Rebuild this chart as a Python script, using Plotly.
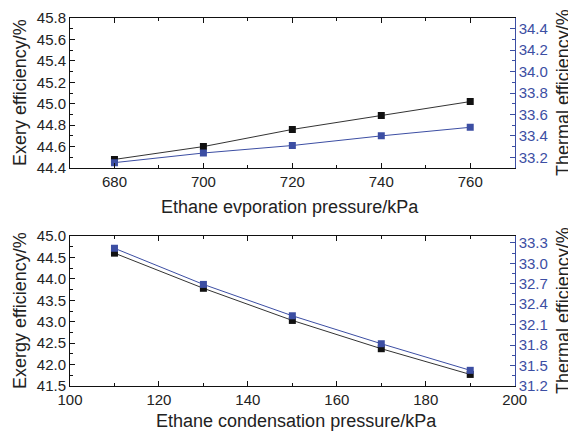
import plotly.graph_objects as go

# Top panel: ethane evaporation pressure
evap_pressure = [680, 700, 720, 740, 760]
evap_exergy = [44.48, 44.60, 44.76, 44.89, 45.02]
evap_thermal = [33.15, 33.24, 33.31, 33.40, 33.48]

# Bottom panel: ethane condensation pressure
cond_pressure = [110, 130, 150, 170, 190]
cond_exergy = [44.60, 43.78, 43.03, 42.37, 41.77]
cond_thermal = [33.22, 32.69, 32.23, 31.82, 31.43]

BLACK = "#111111"
BLUE = "#3c4ea3"
FONT = "Liberation Sans, Arial, sans-serif"

fig = go.Figure()
fig.add_trace(go.Scatter(x=evap_pressure, y=evap_exergy, mode="lines+markers",
                         line=dict(color="#333333", width=1),
                         marker=dict(symbol="square", size=7, color=BLACK),
                         xaxis="x", yaxis="y"))
fig.add_trace(go.Scatter(x=evap_pressure, y=evap_thermal, mode="lines+markers",
                         line=dict(color=BLUE, width=1),
                         marker=dict(symbol="square", size=7, color=BLUE),
                         xaxis="x", yaxis="y2"))
fig.add_trace(go.Scatter(x=cond_pressure, y=cond_exergy, mode="lines+markers",
                         line=dict(color="#333333", width=1),
                         marker=dict(symbol="square", size=7, color=BLACK),
                         xaxis="x2", yaxis="y3"))
fig.add_trace(go.Scatter(x=cond_pressure, y=cond_thermal, mode="lines+markers",
                         line=dict(color=BLUE, width=1),
                         marker=dict(symbol="square", size=7, color=BLUE),
                         xaxis="x2", yaxis="y4"))

# page body adds an 8px offset, so the figure is 8px smaller and shifted
OFF = 8
W, H = 576 - OFF, 434 - OFF
xd = [(70 - OFF) / W, (514.7 - OFF) / W]
top_d = [1 - (168 - OFF) / H, 1 - (18 - OFF) / H]
bot_d = [1 - (386 - OFF) / H, 1 - (236 - OFF) / H]

tickfont = dict(family=FONT, size=15, color="#222222")
titlefont = dict(family=FONT, size=18, color="#222222")
btickfont = dict(family=FONT, size=15, color=BLUE)


def xax(rng, dtick, anchor):
    return dict(domain=xd, range=rng, dtick=dtick, tick0=0, anchor=anchor,
                automargin=False,
                showline=True, linecolor="#111111", linewidth=1, mirror="ticks",
                ticks="inside", ticklen=5, tickcolor="#111111",
                minor=dict(ticks="inside", ticklen=3, dtick=dtick / 2, tickcolor="#111111"),
                showgrid=False, zeroline=False, tickfont=tickfont)


def yax_left(rng, dtick, anchor, domain):
    return dict(domain=domain, range=rng, dtick=dtick, tick0=0, anchor=anchor,
                automargin=False, tickformat=".1f",
                showline=True, linecolor="#111111", linewidth=1,
                ticks="inside", ticklen=5, tickcolor="#111111",
                minor=dict(ticks="inside", ticklen=3, dtick=dtick / 2, tickcolor="#111111"),
                showgrid=False, zeroline=False, tickfont=tickfont)


def yax_right(rng, dtick, anchor, overlay):
    return dict(range=rng, dtick=dtick, tick0=0, anchor=anchor, overlaying=overlay,
                automargin=False, tickformat=".1f",
                side="right", showline=True, linecolor=BLUE, linewidth=1,
                ticks="inside", ticklen=5, tickcolor=BLUE,
                minor=dict(ticks="inside", ticklen=3, dtick=dtick / 2, tickcolor=BLUE),
                showgrid=False, zeroline=False, tickfont=btickfont)


fig.update_layout(
    width=W, height=H,
    margin=dict(l=0, r=0, t=0, b=0),
    paper_bgcolor="white", plot_bgcolor="white",
    showlegend=False,
    font=dict(family=FONT),
    xaxis=xax([670, 770], 20, "y"),
    yaxis=yax_left([44.4, 45.8], 0.2, "x", top_d),
    yaxis2=yax_right([33.1, 34.5], 0.2, "x", "y"),
    xaxis2=xax([100, 200], 20, "y3"),
    yaxis3=yax_left([41.5, 45.0], 0.5, "x2", bot_d),
    yaxis4=yax_right([31.2, 33.4], 0.3, "x2", "y3"),
)


def px(xr):
    return (xr - OFF) / W


def py(yr):
    return 1 - (yr - OFF) / H


titles = [
    ("Ethane evporation pressure/kPa", 289.5, 207, 0),
    ("Ethane condensation pressure/kPa", 296, 421, 0),
    ("Exery efficiency/%", 20, 93, -90),
    ("Exergy efficiency/%", 20, 311, -90),
    ("Thermal efficiency/%", 563, 93, -90),
    ("Thermal efficiency/%", 563, 311, -90),
]
for text, xr, yr, ang in titles:
    fig.add_annotation(text=text, xref="paper", yref="paper", x=px(xr), y=py(yr),
                       xanchor="center", yanchor="middle", textangle=ang,
                       showarrow=False, font=titlefont)

fig.write_html("out.html")
